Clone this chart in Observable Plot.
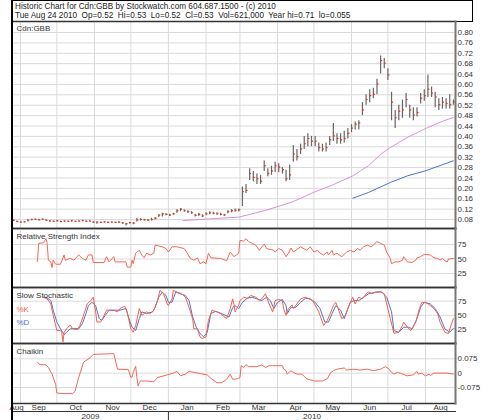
<!DOCTYPE html>
<html><head><meta charset="utf-8">
<script src="https://cdn.jsdelivr.net/npm/d3@7"></script>
<script src="https://cdn.jsdelivr.net/npm/@observablehq/plot@0.6"></script>
<style>
body{margin:0;background:#fff;font-family:"Liberation Sans",Arial,sans-serif;}
#chart{position:relative;width:482px;height:420px;overflow:hidden;background:#fff;}
#chart svg{position:absolute;left:0;}
#hdr{position:absolute;left:12px;top:0;width:461px;height:22px;border:1px solid #000;box-sizing:border-box;font-size:8.2px;line-height:9px;color:#222;padding:1px 0 0 2px;white-space:pre;}
#lborder{position:absolute;left:11px;top:0;width:1.5px;height:420px;background:#000;}
</style></head><body><div id="chart"></div><script>
// ---------- DATA ----------
const headerLines = [
  "Historic Chart for Cdn:GBB by Stockwatch.com 604.687.1500 - (c) 2010",
  "Tue Aug 24 2010  Op=0.52  Hi=0.53  Lo=0.52  Cl=0.53  Vol=621,000  Year hi=0.71  lo=0.055"
];
const panelTitles = ["Cdn:GBB", "Relative Strength Index", "Slow Stochastic", "Chaikin"];
const stochLegend = ["%K", "%D"];

// day numbers count calendar days from 1 Sep 2009 (day 0)
const baseDate = "2009-09-01";
// price bars: one bar every 3 days from 26 Aug 2009 (day -6) to 24 Aug 2010 (day 357)
const barFirstDay = -6, barStepDays = 3;
const close = [.075,.070,.068,.069,.075,.078,.079,.077,.079,.075,
.072,.071,.073,.070,.072,.071,.073,.071,.072,.074,
.071,.072,.068,.068,.067,.069,.067,.068,.067,.068,
.065,.062,.066,.064,.076,.078,.077,.076,.078,.083,
.095,.100,.098,.095,.100,.112,.118,.112,.108,.104,
.094,.098,.092,.100,.104,.102,.100,.098,.096,.108,
.112,.114,.115,.185,.190,.255,.240,.235,.225,.285,
.255,.265,.285,.280,.270,.235,.250,.330,.320,.350,
.370,.390,.380,.380,.355,.350,.355,.385,.400,.390,
.385,.390,.410,.430,.445,.450,.500,.540,.555,.560,
.600,.690,.680,.635,.530,.470,.495,.500,.540,.500,
.480,.490,.545,.555,.580,.565,.550,.520,.530,.525,
.520,.530];
const high = [.078,.074,.071,.072,.079,.081,.082,.081,.082,.079,
.076,.074,.076,.074,.075,.074,.076,.074,.075,.077,
.075,.075,.072,.071,.070,.072,.070,.071,.070,.071,
.068,.066,.069,.068,.085,.083,.081,.080,.085,.088,
.098,.104,.103,.100,.104,.118,.122,.118,.114,.110,
.100,.104,.098,.106,.110,.108,.106,.104,.100,.114,
.118,.120,.120,.205,.215,.275,.265,.255,.250,.305,
.275,.285,.300,.295,.280,.270,.290,.365,.350,.370,
.400,.410,.400,.400,.375,.370,.375,.400,.450,.410,
.410,.420,.430,.445,.455,.460,.530,.560,.580,.585,
.620,.710,.700,.660,.570,.500,.520,.540,.565,.520,
.510,.510,.565,.580,.635,.590,.570,.545,.550,.545,
.560,.540];
const low = [.072,.068,.066,.067,.070,.075,.076,.075,.076,.073,
.070,.069,.070,.068,.069,.069,.070,.069,.070,.071,
.069,.070,.065,.062,.065,.066,.065,.066,.065,.066,
.062,.055,.063,.060,.070,.074,.073,.073,.074,.078,
.088,.090,.094,.092,.096,.104,.110,.108,.104,.100,
.090,.092,.088,.094,.098,.098,.096,.094,.092,.102,
.106,.108,.110,.130,.180,.230,.225,.215,.215,.265,
.245,.250,.260,.260,.255,.225,.230,.300,.305,.330,
.350,.360,.360,.360,.340,.340,.340,.365,.380,.370,
.370,.375,.390,.415,.425,.425,.480,.520,.530,.545,
.560,.640,.660,.615,.460,.430,.460,.470,.510,.470,
.460,.475,.525,.535,.550,.550,.510,.500,.505,.505,
.505,.520];

// moving averages [day, value]
const maPink = [[134,.076],[148,.080],[161,.084],[180,.089],[202,.115],[224,.147],[242,.185],[256,.21],[274,.248],[287,.287],[297,.331],[305,.357],[319,.396],[334,.43],[349,.46],[357,.473]];
const maBlue = [[274,.162],[287,.184],[305,.2225],[319,.248],[334,.2675],[357,.306]];

const rsi = [[14,46],[15,77],[19,78],[21,85],[22,77],[23,48],[25,45],[26,35],[27,48],[29,41],[33,41],[36,57],[37,48],[41,51],[44,48],[48,57],[51,51],[54,48],[56,57],[59,57],[60,44],[69,44],[71,54],[73,45],[77,54],[78,45],[87,45],[88,36],[91,36],[92,48],[93,42],[95,60],[98,65],[100,57],[102,52],[104,60],[107,57],[110,60],[111,74],[117,71],[120,68],[122,62],[125,71],[129,71],[135,68],[137,62],[140,51],[143,48],[146,52],[148,42],[151,45],[153,42],[155,60],[157,52],[165,51],[170,47],[173,62],[176,54],[180,60],[181,82],[184,81],[186,85],[188,80],[194,74],[197,65],[201,76],[203,68],[209,65],[210,62],[213,68],[216,65],[219,54],[221,60],[223,69],[225,62],[231,71],[236,65],[239,71],[242,62],[245,65],[247,60],[250,57],[253,62],[254,57],[257,65],[258,57],[261,60],[265,54],[269,62],[272,65],[275,62],[278,68],[280,65],[283,71],[286,74],[289,71],[291,74],[294,80],[297,77],[300,74],[302,62],[305,51],[306,42],[309,45],[312,45],[315,48],[316,54],[319,45],[323,44],[326,48],[327,52],[330,54],[333,58],[338,57],[341,52],[344,51],[346,48],[348,51],[350,47],[352,45],[353,50],[357,51]];

const stochK = [[19,82],[22,79],[25,70],[27,50],[29,32],[30,23],[33,23],[34,20],[35,3],[36,20],[38,26],[41,33],[43,26],[47,25],[49,32],[52,50],[55,70],[58,76],[60,82],[62,56],[63,38],[66,38],[69,50],[71,59],[77,59],[80,56],[82,62],[86,66],[88,56],[91,26],[93,20],[95,32],[98,62],[100,50],[104,56],[107,53],[110,59],[113,76],[115,94],[118,88],[121,70],[122,67],[125,79],[126,94],[129,91],[133,88],[136,82],[139,64],[142,44],[143,26],[146,26],[148,12],[150,9],[153,12],[155,41],[158,59],[162,56],[165,53],[170,44],[173,62],[175,79],[176,70],[177,56],[180,68],[181,76],[184,82],[187,80],[190,85],[194,82],[197,76],[199,79],[202,88],[205,70],[208,56],[210,76],[213,78],[216,76],[217,62],[219,50],[221,62],[224,68],[225,62],[228,70],[231,79],[235,82],[238,79],[241,76],[243,68],[246,56],[250,32],[253,41],[256,56],[258,67],[260,73],[263,56],[265,44],[268,50],[271,68],[274,82],[276,70],[279,82],[282,79],[285,88],[287,91],[290,88],[293,91],[297,92],[300,88],[302,70],[305,44],[308,18],[312,20],[315,32],[316,38],[319,29],[322,23],[326,38],[329,62],[331,73],[335,72],[338,67],[341,62],[344,53],[346,38],[350,20],[353,18],[355,32],[357,44]];

const stochD = [[21,82],[25,76],[27,59],[30,38],[33,26],[36,16],[38,20],[41,26],[44,27],[48,26],[51,35],[54,53],[56,67],[59,73],[62,67],[65,44],[67,41],[70,50],[73,59],[78,59],[82,59],[87,62],[89,47],[92,29],[95,23],[98,44],[100,56],[104,53],[109,56],[111,64],[114,82],[117,91],[120,85],[122,73],[125,73],[128,91],[132,88],[136,85],[139,76],[142,47],[145,29],[148,18],[151,12],[154,20],[157,53],[161,57],[166,53],[172,47],[175,64],[177,67],[180,62],[183,73],[187,80],[191,82],[195,79],[199,76],[203,82],[206,76],[209,62],[212,73],[216,78],[219,67],[220,53],[223,64],[227,64],[231,73],[235,80],[239,79],[243,73],[247,62],[251,38],[254,38],[257,53],[260,67],[264,59],[267,44],[269,56],[272,73],[275,76],[279,76],[283,82],[287,88],[293,91],[298,91],[302,82],[306,56],[308,23],[312,20],[316,29],[320,29],[323,26],[327,44],[330,64],[333,73],[338,70],[342,62],[346,47],[350,26],[354,20],[357,27]];

const chaikin = [[14,0.057],[16,0.045],[21,0.043],[23,0.030],[26,-0.005],[29,-0.059],[30,-0.104],[36,-0.107],[43,-0.107],[45,-0.095],[48,-0.023],[52,0.057],[55,0.070],[58,0.084],[60,0.098],[77,0.102],[80,0.021],[89,0.018],[91,-0.023],[92,-0.020],[93,0.004],[95,0.036],[96,-0.023],[97,-0.068],[98,-0.050],[99,-0.041],[104,-0.041],[110,-0.045],[113,-0.023],[121,-0.009],[126,0],[129,0.009],[132,-0.014],[136,-0.005],[139,0.009],[143,0.004],[148,-0.002],[154,-0.009],[157,-0.027],[162,-0.050],[166,-0.050],[170,-0.032],[173,-0.005],[175,-0.032],[179,-0.029],[181,-0.023],[182,0.039],[184,0.030],[186,0.045],[188,0.034],[195,0.034],[199,0.043],[202,0.030],[205,0.039],[208,0.039],[216,0.039],[217,0.021],[219,0.013],[220,-0.005],[223,0.013],[225,0.004],[228,-0.005],[232,-0.005],[236,-0.029],[242,-0.041],[249,-0.041],[253,-0.029],[256,0.004],[258,0.0125],[261,0.021],[267,0.027],[269,0.016],[275,0.021],[280,0.016],[286,0.021],[291,0.013],[297,0.021],[301,0.034],[304,0.021],[306,0.004],[308,-0.005],[311,0.004],[313,0],[319,-0.014],[324,-0.009],[327,0.009],[328,-0.005],[331,0],[334,-0.014],[337,-0.005],[338,-0.013],[341,0],[352,0],[357,-0.005]];

// axis ticks / labels
const priceTicks = [0.08,0.12,0.16,0.20,0.24,0.28,0.32,0.36,0.40,0.44,0.48,0.52,0.56,0.60,0.64,0.68,0.72,0.76,0.80];
const oscTicks = [25, 50, 75];
const chaikinTicks = [-0.075, 0, 0.075];
const chaikinTickLabels = ["-0.075", "0", "0.075"];
const monthNames = ["Aug","Sep","Oct","Nov","Dec","Jan","Feb","Mar","Apr","May","Jun","Jul","Aug"];
const monthFirst = ["2009-08-01","2009-09-01","2009-10-01","2009-11-01","2009-12-01","2010-01-01","2010-02-01","2010-03-01","2010-04-01","2010-05-01","2010-06-01","2010-07-01","2010-08-01","2010-09-01"];
const yearNames = ["2009","2010"];
const yearFirst = ["2009-01-01","2010-01-01","2011-01-01"];

// ---------- BUILD ----------
const DAY = 864e5;
const base = new Date(baseDate + "T00:00:00Z").getTime();
const dayDate = d => new Date(base + d * DAY);
const xDomain = [new Date("2009-08-25T10:00:00Z"), new Date("2010-08-25T18:00:00Z")];
const bars = close.map((c, i) => ({date: dayDate(barFirstDay + barStepDays * i), close: c, high: high[i], low: low[i]}));
const monthStarts = monthFirst.map(s => new Date(s + "T00:00:00Z"));
const gridDates = monthStarts.filter(d => d > xDomain[0] && d < xDomain[1]);
const clampMid = (a, b) => {
  const s = Math.max(+a, +xDomain[0]), e = Math.min(+b, +xDomain[1]);
  return new Date((s + e) / 2);
};
const monthLabels = monthNames.map((n, i) => ({name: n, mid: clampMid(monthStarts[i], monthStarts[i + 1])}));
const yearStarts = yearFirst.map(s => new Date(s + "T00:00:00Z"));
const yearLabels = yearNames.map((n, i) => ({name: n, mid: clampMid(yearStarts[i], yearStarts[i + 1])}));

const FONT = "'Liberation Sans', Arial, sans-serif";
const GRID = "#dadada";
const common = {
  width: 482, marginLeft: 12, marginRight: 27, marginTop: 0, marginBottom: 0,
  style: {fontFamily: FONT, fontSize: "8px", color: "#333", overflow: "visible", background: "transparent"},
  x: {type: "utc", domain: xDomain, axis: null}
};
const title = (t, dy) => Plot.text([t], {frameAnchor: "top-left", dx: 4, dy: dy, text: d => d, fontSize: 8, fill: "#333", textAnchor: "start"});
const rightAxis = (ticks, fmt) => Plot.axisY(ticks, {anchor: "right", tickSize: 0, tickPadding: 2, tickFormat: fmt, fontSize: 8, fill: "#333"});
const frames = () => [
  Plot.frame({anchor: "top", stroke: "#333", strokeWidth: 1.5}),
  Plot.frame({anchor: "bottom", stroke: "#333", strokeWidth: 1.5}),
  Plot.frame({anchor: "right", stroke: "#777", strokeWidth: 2})
];
const line = (arr, stroke) => Plot.line(arr, {x: d => dayDate(d[0]), y: d => d[1], stroke, strokeWidth: 1});

const chart = document.getElementById("chart");
function place(svg, top) { svg.style.top = top + "px"; chart.appendChild(svg); }

// header
const hdr = document.createElement("div");
hdr.id = "hdr";
hdr.textContent = headerLines.join("\n");
chart.appendChild(hdr);

// price panel
place(Plot.plot({...common, height: 207,
  y: {domain: [0.08, 0.80], range: [198, 11], axis: null},
  marks: [
    Plot.ruleX(gridDates, {stroke: GRID}),
    Plot.ruleY(priceTicks, {stroke: GRID}),
    line(maPink, "#d991d6"),
    line(maBlue, "#4f72c4"),
    Plot.ruleX(bars, {x: "date", y1: "low", y2: "high", stroke: "#666", strokeWidth: 1.2}),
    Plot.rect(bars, {x1: "date", x2: "date", y1: "close", y2: "close", insetLeft: 0.5, insetRight: -2, insetTop: -0.6, insetBottom: -0.6, fill: "#ee2a10"}),
    rightAxis(priceTicks, d3.format(".2f")),
    ...frames(),
    title(panelTitles[0], 4)
  ]}), 21);

// RSI panel
place(Plot.plot({...common, height: 59,
  y: {domain: [0, 100], range: [59.5, 1.5], axis: null},
  marks: [
    Plot.ruleX(gridDates, {stroke: GRID}),
    Plot.ruleY(oscTicks, {stroke: GRID}),
    line(rsi, "#f2685a"),
    rightAxis(oscTicks, d => String(d)),
    ...frames(),
    title(panelTitles[1], 5)
  ]}), 228);

// Slow stochastic panel
place(Plot.plot({...common, height: 56,
  y: {domain: [0, 100], range: [56.1, -0.5], axis: null},
  marks: [
    Plot.ruleX(gridDates, {stroke: GRID}),
    Plot.ruleY(oscTicks, {stroke: GRID}),
    line(stochD, "#5574c8"),
    line(stochK, "#f2604e"),
    rightAxis(oscTicks, d => String(d)),
    ...frames(),
    title(panelTitles[2], 5),
    Plot.text([stochLegend[0]], {frameAnchor: "top-left", dx: 4, dy: 19, text: d => d, fontSize: 8, fill: "#f2604e", textAnchor: "start"}),
    Plot.text([stochLegend[1]], {frameAnchor: "top-left", dx: 4, dy: 32, text: d => d, fontSize: 8, fill: "#5574c8", textAnchor: "start"})
  ]}), 287);

// Chaikin panel
place(Plot.plot({...common, height: 60,
  y: {domain: [-0.075, 0.075], range: [44, 15.3], axis: null},
  marks: [
    Plot.ruleX(gridDates, {stroke: GRID}),
    Plot.ruleY(chaikinTicks, {stroke: GRID}),
    line(chaikin, "#f2685a"),
    rightAxis(chaikinTicks, d => chaikinTickLabels[chaikinTicks.indexOf(d)]),
    ...frames(),
    title(panelTitles[3], 5)
  ]}), 343);

// month row
place(Plot.plot({...common, height: 8,
  marks: [
    Plot.text(monthLabels, {x: "mid", text: "name", frameAnchor: "middle", fontSize: 8, fill: "#333"}),
    Plot.frame({anchor: "bottom", stroke: "#333", strokeWidth: 1})
  ]}), 403);

// year row
place(Plot.plot({...common, height: 9,
  marks: [
    Plot.ruleX([yearStarts[1]], {stroke: "#333", strokeWidth: 1}),
    Plot.text(yearLabels, {x: "mid", text: "name", frameAnchor: "middle", fontSize: 8, fill: "#333"})
  ]}), 411);

const lb = document.createElement("div");
lb.id = "lborder";
chart.appendChild(lb);
</script></body></html>
